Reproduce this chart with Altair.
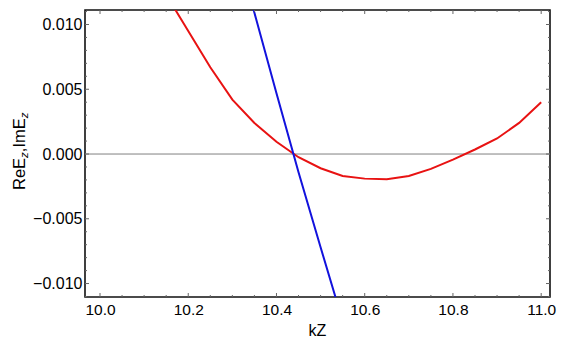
import altair as alt
import pandas as pd

# ---- data ----
red_kz = [10.10, 10.15, 10.20, 10.25, 10.30, 10.35, 10.40, 10.45, 10.50, 10.55,
          10.60, 10.65, 10.70, 10.75, 10.80, 10.85, 10.90, 10.95, 11.00]
red_val = [0.0155, 0.0123, 0.0095, 0.0067, 0.0042, 0.0024, 0.00095, -0.00025, -0.0011, -0.0017,
           -0.0019, -0.00195, -0.0017, -0.00115, -0.00043, 0.00035, 0.0012, 0.0024, 0.0040]

blue_kz = [10.30, 10.35, 10.40, 10.45, 10.50, 10.55, 10.60]
blue_val = [0.0172, 0.0109, 0.0047, -0.0014, -0.0072, -0.0129, -0.0185]

x_major_ticks = [10.0, 10.2, 10.4, 10.6, 10.8, 11.0]
x_minor_ticks = [10.05, 10.1, 10.15, 10.25, 10.3, 10.35, 10.45, 10.5, 10.55,
                 10.65, 10.7, 10.75, 10.85, 10.9, 10.95]
y_major_ticks = [-0.010, -0.005, 0.0, 0.005, 0.010]
y_minor_ticks = [-0.011, -0.009, -0.008, -0.007, -0.006, -0.004, -0.003, -0.002, -0.001,
                 0.001, 0.002, 0.003, 0.004, 0.006, 0.007, 0.008, 0.009, 0.011]

x_title = "kZ"
y_title_parts = [("ReE", False), ("z", True), (",ImE", False), ("z", True)]

# ---- layout ----
W, H = 465, 287
x_dom = [9.966, 11.020]
y_dom = [-0.01104, 0.01112]
FONT = "Liberation Sans"

xs = alt.Scale(domain=x_dom, nice=False, zero=False)
ys = alt.Scale(domain=y_dom, nice=False, zero=False)

df_red = pd.DataFrame({"kz": red_kz, "v": red_val})
df_blue = pd.DataFrame({"kz": blue_kz, "v": blue_val})

xaxis = alt.Axis(values=x_major_ticks, format=".1f", tickSize=0, domain=False, grid=False,
                 labelFont=FONT, labelFontSize=15.5, labelColor="black", labelPadding=5,
                 title=None)
yaxis = alt.Axis(values=y_major_ticks, format=".3f", tickSize=0, domain=False, grid=False,
                 labelFont=FONT, labelFontSize=16, labelColor="black", labelPadding=3,
                 title=None)

zero_line = alt.Chart(pd.DataFrame({"v": [0.0]})).mark_rule(
    color="#808080", strokeWidth=1).encode(
    y=alt.Y("v:Q", scale=ys, axis=yaxis))

red = alt.Chart(df_red).mark_line(color="#e81212", strokeWidth=2, clip=True).encode(
    x=alt.X("kz:Q", scale=xs, axis=xaxis), y=alt.Y("v:Q", scale=ys))
blue = alt.Chart(df_blue).mark_line(color="#1212dd", strokeWidth=2, clip=True).encode(
    x=alt.X("kz:Q", scale=xs), y=alt.Y("v:Q", scale=ys))

tick_col = "#666666"
layers = [zero_line, red, blue]


def xticks(vals, length):
    d = pd.DataFrame({"t": vals})
    bottom = alt.Chart(d).mark_rule(color=tick_col, strokeWidth=1).encode(
        x=alt.X("t:Q", scale=xs), y=alt.value(H), y2=alt.value(H - length))
    top = alt.Chart(d).mark_rule(color=tick_col, strokeWidth=1).encode(
        x=alt.X("t:Q", scale=xs), y=alt.value(0), y2=alt.value(length))
    return [bottom, top]


def yticks(vals, length):
    d = pd.DataFrame({"t": vals})
    left = alt.Chart(d).mark_rule(color=tick_col, strokeWidth=1).encode(
        y=alt.Y("t:Q", scale=ys), x=alt.value(0), x2=alt.value(length))
    right = alt.Chart(d).mark_rule(color=tick_col, strokeWidth=1).encode(
        y=alt.Y("t:Q", scale=ys), x=alt.value(W), x2=alt.value(W - length))
    return [left, right]


layers += xticks(x_major_ticks, 4) + xticks(x_minor_ticks, 2)
layers += yticks(y_major_ticks, 4) + yticks(y_minor_ticks, 2)

one = pd.DataFrame({"a": [0]})

# x title
layers.append(alt.Chart(one).mark_text(
    font=FONT, fontSize=16, color="black", align="center", baseline="alphabetic").encode(
    x=alt.value(W / 2), y=alt.value(325.5), text=alt.value(x_title)))

# y title with subscripts (rotated)
main_fs, sub_fs = 16.5, 11.5
char_w = {"R": 0.722, "e": 0.556, "E": 0.667, ",": 0.278, "I": 0.278, "m": 0.833, "z": 0.5}
ypos = 180.0
base_x = -60.0
for txt, is_sub in y_title_parts:
    fs = sub_fs if is_sub else main_fs
    layers.append(alt.Chart(one).mark_text(
        font=FONT, fontSize=fs, color="black", align="left", baseline="alphabetic",
        angle=270, fontStyle="italic" if is_sub else "normal").encode(
        x=alt.value(base_x + (2.5 if is_sub else 0)), y=alt.value(ypos), text=alt.value(txt)))
    ypos -= sum(char_w[c] for c in txt) * fs

chart = alt.layer(*layers).properties(
    width=W, height=H,
    autosize=alt.AutoSizeParams(type="none"),
    padding={"left": 77, "top": 2, "right": 9, "bottom": 40},
).configure_view(stroke="#111111", strokeWidth=1.6)

chart.save("out.html", embed_options={"renderer": "svg", "actions": False})
